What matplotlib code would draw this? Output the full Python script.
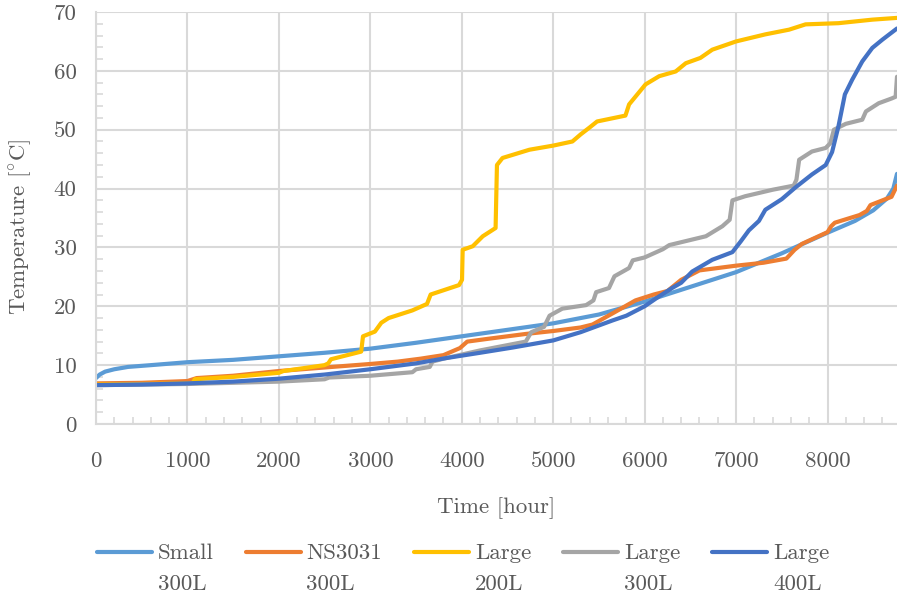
import matplotlib
matplotlib.use("Agg")
import matplotlib.pyplot as plt
from matplotlib.legend_handler import HandlerLine2D
from matplotlib.ticker import MultipleLocator

# sorted hourly tank temperatures over one year
small_300_h = [0, 40, 100, 200, 350, 600, 1000, 1500, 2000, 2500, 3000, 3500, 4000, 4500,
               5000, 5500, 6000, 6500, 7000, 7500, 8000, 8300, 8500, 8650, 8720, 8760]
small_300_t = [7.8, 8.4, 8.9, 9.3, 9.7, 10.0, 10.5, 10.9, 11.5, 12.1, 12.8, 13.8, 14.9, 16.0,
               17.1, 18.6, 20.8, 23.3, 25.8, 29.0, 32.5, 34.5, 36.3, 38.3, 40.0, 42.5]

ns3031_h = [0, 500, 1000, 1100, 1500, 2000, 2500, 3000, 3300, 3550, 3800, 3980, 4060, 4300,
            4700, 5000, 5300, 5430, 5650, 5900, 6100, 6250, 6400, 6600, 7000, 7300, 7550,
            7640, 7720, 8000, 8040, 8080, 8350, 8430, 8470, 8700, 8760]
ns3031_t = [6.9, 7.0, 7.3, 7.8, 8.2, 9.0, 9.6, 10.2, 10.6, 11.1, 11.7, 12.9, 14.0, 14.5,
            15.3, 15.8, 16.4, 16.9, 18.8, 21.0, 22.0, 22.6, 24.5, 26.1, 26.9, 27.4, 28.1,
            29.6, 30.6, 32.6, 33.6, 34.2, 35.5, 36.2, 37.2, 38.6, 40.5]

large_200_h = [0, 500, 1000, 1060, 1080, 1500, 2000, 2050, 2500, 2540, 2570, 2900, 2920,
               3050, 3120, 3200, 3460, 3620, 3660, 3970, 4003, 4010, 4120, 4230, 4370, 4385,
               4446, 4740, 5000, 5210, 5300, 5400, 5480, 5790, 5830, 6010, 6160, 6340, 6450,
               6610, 6740, 7000, 7320, 7580, 7760, 8120, 8490, 8760]
large_200_t = [6.7, 6.8, 6.9, 7.0, 7.6, 8.0, 8.7, 9.0, 10.0, 10.3, 11.0, 12.3, 14.9,
               15.7, 17.2, 18.0, 19.3, 20.4, 22.0, 23.6, 24.5, 29.6, 30.2, 31.9, 33.3, 44.0,
               45.2, 46.6, 47.3, 48.0, 49.2, 50.4, 51.4, 52.4, 54.3, 57.7, 59.1, 59.9, 61.3,
               62.2, 63.6, 65.0, 66.2, 67.0, 67.9, 68.1, 68.7, 69.0]

large_300_h = [0, 1000, 2000, 2500, 2550, 3000, 3460, 3500, 3650, 3680, 3800, 4200, 4700,
               4760, 4900, 4960, 5100, 5360, 5440, 5470, 5610, 5670, 5830, 5870, 6000, 6200,
               6270, 6670, 6850, 6930, 6960, 7100, 7400, 7630, 7660, 7690, 7830, 7980, 8030,
               8070, 8200, 8380, 8420, 8560, 8700, 8745, 8760]
large_300_t = [6.6, 6.8, 7.2, 7.6, 7.9, 8.2, 8.8, 9.3, 9.7, 10.6, 11.1, 12.5, 14.0,
               15.6, 16.5, 18.4, 19.6, 20.2, 21.0, 22.4, 23.1, 25.1, 26.5, 27.8, 28.3, 29.7,
               30.4, 31.9, 33.6, 34.7, 38.0, 38.7, 39.8, 40.5, 41.5, 44.9, 46.3, 46.9, 47.7,
               50.0, 51.0, 51.7, 53.1, 54.5, 55.3, 55.6, 59.0]

large_400_h = [0, 500, 1000, 1500, 2000, 2500, 3000, 3500, 3830, 4200, 4560, 5000, 5300,
               5650, 5800, 6000, 6150, 6300, 6400, 6520, 6740, 6960, 7050, 7140, 7250, 7320,
               7500, 7650, 7830, 7980, 8050, 8120, 8190, 8270, 8380, 8490, 8600, 8760]
large_400_t = [6.6, 6.7, 6.9, 7.2, 7.7, 8.4, 9.3, 10.3, 11.2, 12.1, 13.0, 14.2, 15.6,
               17.6, 18.4, 20.0, 21.6, 23.1, 24.0, 25.9, 27.9, 29.2, 31.0, 32.9, 34.5, 36.4,
               38.2, 40.2, 42.4, 44.0, 46.2, 50.6, 56.0, 58.5, 61.6, 63.9, 65.3, 67.2]

series_labels = ["Small\n300L", "NS3031\n300L", "Large\n200L", "Large\n300L", "Large\n400L"]
series_colors = ["#5B9BD5", "#ED7D31", "#FFC000", "#A5A5A5", "#4472C4"]

x_ticks = [0, 1000, 2000, 3000, 4000, 5000, 6000, 7000, 8000]
y_ticks = [0, 10, 20, 30, 40, 50, 60, 70]

TEXT = "#595959"
GRID = "#D9D9D9"
FS = 16.5

plt.rcParams["font.family"] = ["cmr10", "DejaVu Serif"]
plt.rcParams["axes.formatter.use_mathtext"] = True
plt.rcParams["mathtext.fontset"] = "cm"


class FirstLineHandler(HandlerLine2D):
    # keep the legend line level with the first line of a two-line label
    def adjust_drawing_area(self, legend, orig_handle, xdescent, ydescent, width, height, fontsize):
        xdescent, ydescent, width, height = super().adjust_drawing_area(
            legend, orig_handle, xdescent, ydescent, width, height, fontsize)
        return xdescent, ydescent - 1.45 * fontsize, width, height


fig = plt.figure(figsize=(8.97, 6.01), dpi=100)
ax = fig.add_axes([96 / 897, 177 / 601, 801 / 897, 412 / 601])

data = [(small_300_h, small_300_t), (ns3031_h, ns3031_t), (large_200_h, large_200_t),
        (large_300_h, large_300_t), (large_400_h, large_400_t)]
lines = []
for (h, t), lab, col in zip(data, series_labels, series_colors):
    ln, = ax.plot(h, t, color=col, lw=3, label=lab, solid_capstyle="round",
                  solid_joinstyle="round")
    lines.append(ln)

ax.set_xlim(0, 8760)
ax.set_ylim(0, 70)
ax.set_xticks(x_ticks)
ax.set_xticklabels([str(v) for v in x_ticks])
ax.set_yticks(y_ticks)
ax.set_yticklabels([str(v) for v in y_ticks])
ax.xaxis.set_minor_locator(MultipleLocator(200))
ax.yaxis.set_minor_locator(MultipleLocator(2))

ax.grid(True, which="major", color=GRID, lw=1.5)
ax.set_axisbelow(True)
for side in ["top", "right"]:
    ax.spines[side].set_visible(False)
for side in ["left", "bottom"]:
    ax.spines[side].set_color(GRID)
    ax.spines[side].set_linewidth(1.5)

ax.tick_params(which="major", length=0, pad=14, labelsize=FS, labelcolor=TEXT)
ax.tick_params(axis="x", which="major", pad=20)
ax.tick_params(which="minor", direction="in", length=5, width=1.2, color=GRID)

ax.set_xlabel("Time [hour]", fontsize=FS, color=TEXT, labelpad=19)
ax.set_ylabel(r"Temperature $[^{\circ}$C]", fontsize=FS, color=TEXT)
ax.yaxis.set_label_coords(-0.077, 0.48)

leg = fig.legend(handles=lines, labels=series_labels, loc="center",
                 bbox_to_anchor=(463 / 897, 1 - 569 / 601), ncol=5, frameon=False,
                 fontsize=FS, labelcolor=TEXT, handlelength=2.4, handletextpad=0.25,
                 columnspacing=1.4, handler_map={ln: FirstLineHandler() for ln in lines})
for txt in leg.get_texts():
    txt.set_linespacing(1.75)

fig.savefig("out.png", dpi=100)
